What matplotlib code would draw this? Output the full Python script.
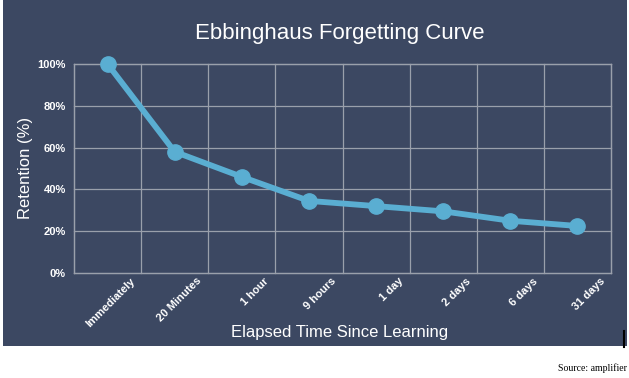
import matplotlib.pyplot as plt
from matplotlib.patches import Rectangle
from matplotlib.lines import Line2D
from matplotlib.transforms import ScaledTranslation

# Ebbinghaus forgetting curve values
labels = ["Immediately", "20 Minutes", "1 hour", "9 hours", "1 day", "2 days", "6 days", "31 days"]
retention = [100, 58, 46, 34.5, 32, 29.5, 25, 22.5]
yticks = [0, 20, 40, 60, 80, 100]

bg = "#3c4862"
line_col = "#5aaed2"
grid_col = "#9aa0ab"

fig = plt.figure(figsize=(6.29, 3.78), dpi=100)
fig.patch.set_facecolor("white")
W, H = 629, 378

# dark panel behind the chart
fig.add_artist(Rectangle((3 / W, 1 - 346 / H), 624 / W, 346 / H,
                         transform=fig.transFigure, facecolor=bg, edgecolor="none", zorder=0))
fig.add_artist(Line2D([624 / W, 624 / W], [1 - 347 / H, 1 - 331 / H],
                      transform=fig.transFigure, color="black", lw=1.5))

ax = fig.add_axes([74 / W, 1 - 273 / H, (611 - 74) / W, (273 - 64) / H])
ax.set_facecolor(bg)

x = list(range(len(labels)))
ax.plot(x, retention, color=line_col, lw=4.2, marker="o", ms=11,
        solid_capstyle="round", clip_on=False, zorder=3)

ax.set_xlim(-0.5, len(labels) - 0.5)
ax.set_ylim(0, 100)

ax.set_yticks(yticks)
ax.set_yticklabels([f"{v}%" for v in yticks])
ax.set_xticks(x)
ax.set_xticklabels(labels, rotation=45, ha="right", va="top", rotation_mode="anchor")
ax.set_xticks([i - 0.5 for i in range(len(labels) + 1)], minor=True)

ax.grid(False)
for v in yticks:
    ax.axhline(v, color=grid_col, lw=0.9, zorder=1, clip_on=False)
for v in ax.get_xticks(minor=True):
    ax.axvline(v, color=grid_col, lw=0.9, zorder=1, clip_on=False)
for s in ax.spines.values():
    s.set_color(grid_col)
    s.set_linewidth(0.9)

ax.tick_params(axis="both", which="both", length=0, colors="white")
for lab in ax.get_yticklabels():
    lab.set_fontfamily("Liberation Sans")
    lab.set_fontweight("bold")
    lab.set_fontsize(8)
for lab in ax.get_xticklabels():
    lab.set_fontfamily("Liberation Sans")
    lab.set_fontweight("bold")
    lab.set_fontsize(8)
    lab.set_transform(lab.get_transform() + ScaledTranslation(0.22, 0.02, fig.dpi_scale_trans))
ax.tick_params(axis="y", pad=6)

fig.text(340 / W, 1 - 33 / H, "Ebbinghaus Forgetting Curve", color="white",
         fontsize=16, fontfamily="Liberation Sans", ha="center", va="center")
fig.text(26 / W, 1 - 168 / H, "Retention (%)", color="white", rotation=90,
         fontsize=12, fontfamily="Liberation Sans", ha="center", va="center")
fig.text(340 / W, 1 - 333 / H, "Elapsed Time Since Learning", color="white",
         fontsize=12, fontfamily="Liberation Sans", ha="center", va="center")
fig.text(627 / W, 1 - 368 / H, "Source: amplifier", color="black",
         fontsize=7, fontfamily="Liberation Serif", ha="right", va="center")

fig.savefig("out.png", dpi=100)
